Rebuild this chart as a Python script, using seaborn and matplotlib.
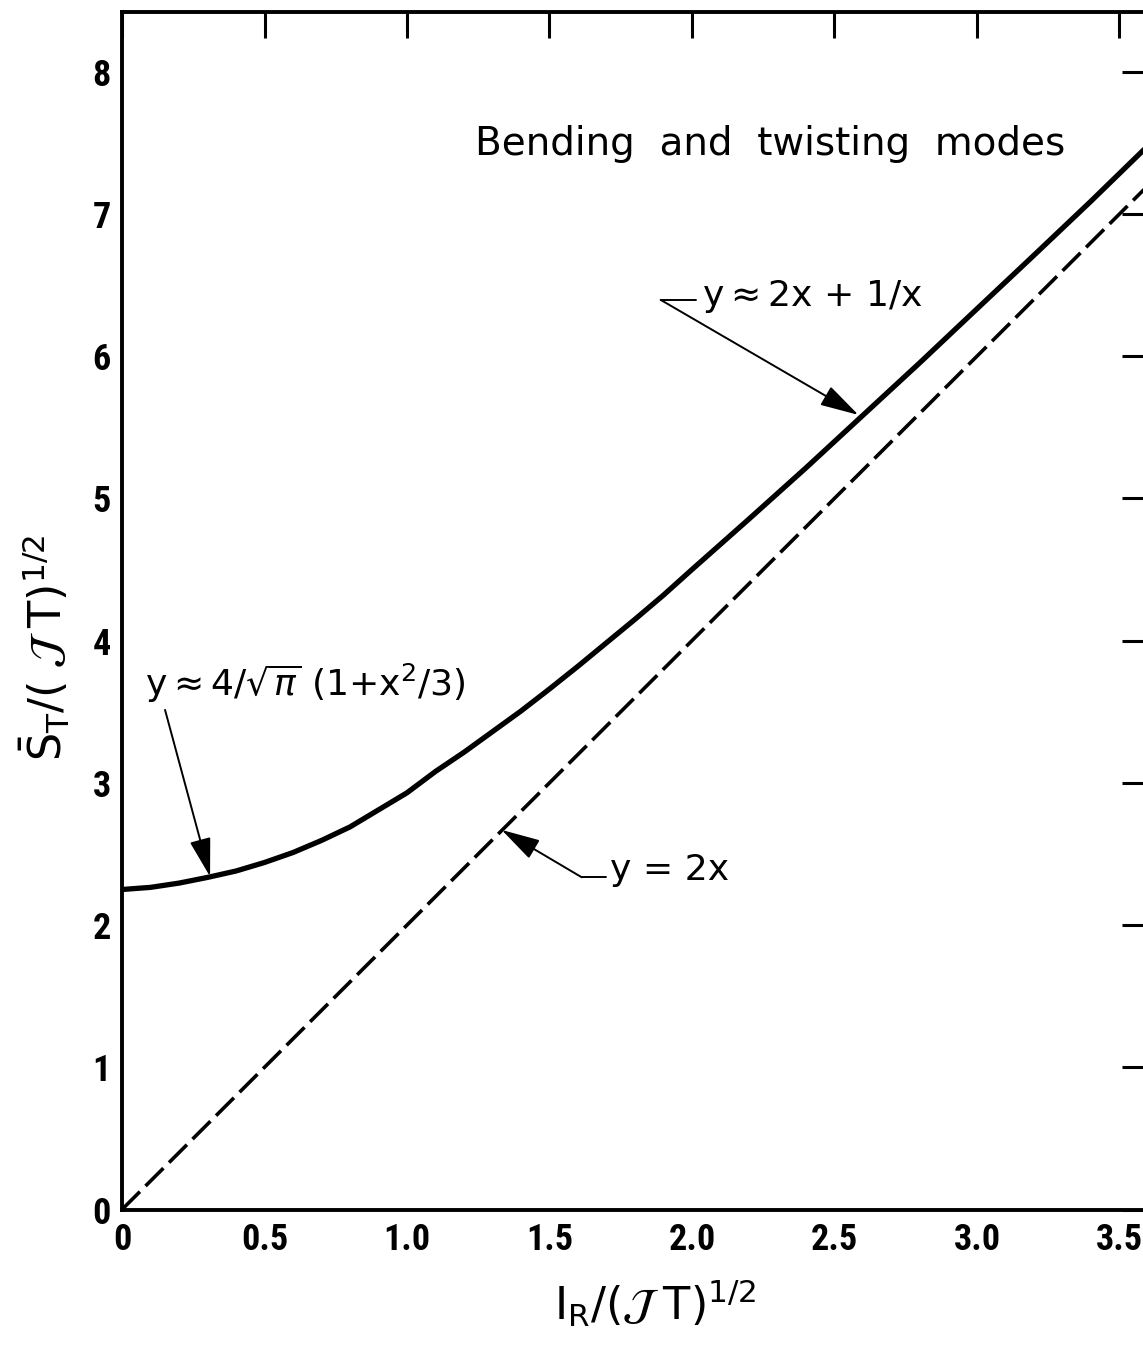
import matplotlib
matplotlib.use("Agg")
import matplotlib.pyplot as plt
import matplotlib.font_manager as fm
import matplotlib.transforms as mtransforms
import seaborn as sns

# ---- data ----
curve_x = [0.0, 0.1, 0.2, 0.3, 0.4, 0.5, 0.6, 0.7, 0.8, 0.9, 1.0, 1.1, 1.2,
           1.3, 1.4, 1.5, 1.6, 1.7, 1.8, 1.9, 2.0, 2.2, 2.4, 2.6, 2.8, 3.0,
           3.2, 3.4, 3.6]
curve_y = [2.25, 2.265, 2.295, 2.335, 2.38, 2.44, 2.51, 2.595, 2.69, 2.81,
           2.93, 3.08, 3.215, 3.36, 3.505, 3.66, 3.82, 3.985, 4.15, 4.32,
           4.50, 4.855, 5.215, 5.585, 5.955, 6.333, 6.71, 7.09, 7.48]
line_x = [0.0, 3.6]
line_y = [0.0, 7.2]

x_ticks = [0, 0.5, 1.0, 1.5, 2.0, 2.5, 3.0, 3.5]
x_tick_labels = ["0", "0.5", "1.0", "1.5", "2.0", "2.5", "3.0", "3.5"]
y_ticks = [0, 1, 2, 3, 4, 5, 6, 7, 8]
y_tick_labels = ["0", "1", "2", "3", "4", "5", "6", "7", "8"]

title_text = "Bending  and  twisting  modes"
label_big = r"y$\approx$2x + 1/x"
label_line = "y = 2x"
label_small = r"y$\approx$4/$\sqrt{\pi}$ (1+x$^2$/3)"
xlabel = r"$\mathrm{I}_{\mathrm{R}}/(\mathcal{J}\;\mathrm{T})^{1/2}$"
ylabel = r"$\bar{\mathrm{S}}_{\mathrm{T}}/(\;\mathcal{J}\;\mathrm{T})^{1/2}$"

# ---- drawing ----
sns.set_style("white")
plt.rcParams["font.family"] = ["DejaVu Sans"]
plt.rcParams["text.color"] = "black"
plt.rcParams["xtick.color"] = "black"
plt.rcParams["ytick.color"] = "black"
plt.rcParams["axes.edgecolor"] = "black"

# find a narrow bold font for the tick labels
tick_fp = None
prefs = ["LiberationSansNarrow-Bold", "RobotoCondensed-Bold",
         "DejaVuSansCondensed-Bold", "Roboto-Condensed-Bold"]
files = [f.fname for f in fm.fontManager.ttflist]
for p in prefs:
    hit = [f for f in files if p.lower() in f.lower().replace(" ", "")]
    if hit:
        tick_fp = fm.FontProperties(fname=hit[0], size=26)
        break
if tick_fp is None:
    tick_fp = fm.FontProperties(family="DejaVu Sans", weight="bold", size=21)

fig = plt.figure(figsize=(11.43, 13.46), dpi=100)
ax = fig.add_axes([122 / 1143, (1346 - 1209.5) / 1346,
                   (1148 - 122) / 1143, (1209.5 - 12) / 1346])

sns.lineplot(x=curve_x, y=curve_y, ax=ax, color="black", linewidth=3.8,
             sort=False, estimator=None)
sns.lineplot(x=line_x, y=line_y, ax=ax, color="black", linewidth=2.6,
             sort=False, estimator=None, linestyle=(0, (7, 2.2)))

ax.set_xlim(0, 3.6)
ax.set_ylim(0, 8.42)
ax.set_xticks(x_ticks)
ax.set_yticks(y_ticks)
ax.set_xticklabels(x_tick_labels)
ax.set_yticklabels(y_tick_labels)
for lab in ax.get_xticklabels() + ax.get_yticklabels():
    lab.set_fontproperties(tick_fp)
    lab.set_color("black")
last = ax.get_xticklabels()[-1]
last.set_transform(last.get_transform() +
                   mtransforms.ScaledTranslation(-6 / 100, 0,
                                                 fig.dpi_scale_trans))
ax.tick_params(axis="both", which="both", direction="in", length=19,
               width=2.2, top=True, right=True, color="black")
ax.tick_params(axis="x", pad=9)
ax.tick_params(axis="y", pad=8)
for sp in ax.spines.values():
    sp.set_linewidth(2.8)
    sp.set_color("black")
ax.set_facecolor("white")

fig.text(655 / 1143, 1 - 1303 / 1346, xlabel, fontsize=32,
         ha="center", va="center", color="black")
fig.text(45 / 1143, 1 - 648 / 1346, ylabel, fontsize=32, rotation=90,
         ha="center", va="center", color="black")

ax.text(1.239, 7.49, title_text, fontsize=28, ha="left", va="center")

arrow = dict(arrowstyle="-|>,head_length=0.8,head_width=0.22",
             color="black", lw=1.4, mutation_scale=30,
             shrinkA=0, shrinkB=0)

# y ~ 2x + 1/x
ax.annotate("", xy=(2.584, 5.587), xytext=(1.890, 6.396), arrowprops=arrow)
ax.plot([1.890, 2.015], [6.396, 6.396], color="black", lw=1.4)
ax.text(2.034, 6.42, label_big, fontsize=26, ha="left", va="center")

# y = 2x
ax.annotate("", xy=(1.332, 2.669), xytext=(1.613, 2.336), arrowprops=arrow)
ax.plot([1.613, 1.70], [2.336, 2.336], color="black", lw=1.4)
ax.text(1.712, 2.39, label_line, fontsize=26, ha="left", va="center")

# y ~ 4/sqrt(pi)(1+x^2/3)
ax.annotate("", xy=(0.309, 2.341), xytext=(0.151, 3.513), arrowprops=arrow)
ax.text(0.081, 3.70, label_small, fontsize=26, ha="left", va="center")

fig.savefig("out.png", dpi=100, facecolor="white")
